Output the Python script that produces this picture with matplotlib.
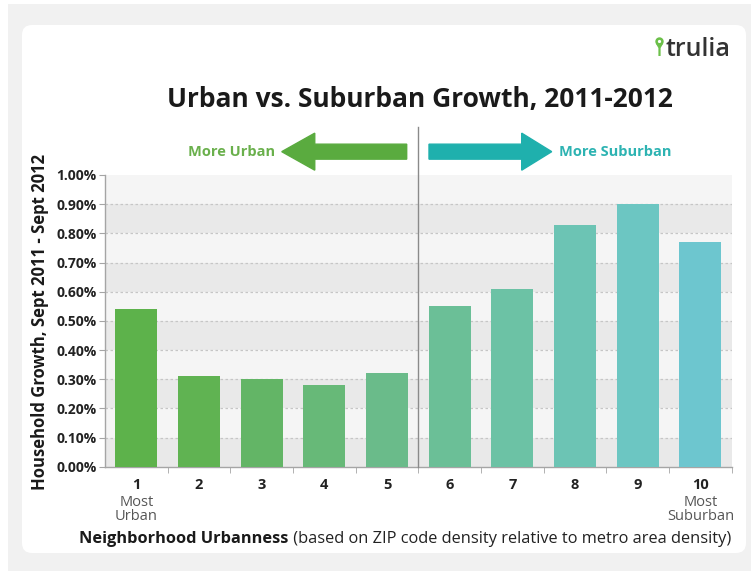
import matplotlib
matplotlib.use("Agg")
import matplotlib.pyplot as plt
from matplotlib.patches import FancyBboxPatch, Rectangle, FancyArrow, Circle, Polygon

plt.rcParams['font.family'] = ['Open Sans', 'DejaVu Sans']

# ---- data ----
categories = ["1", "2", "3", "4", "5", "6", "7", "8", "9", "10"]
sublabels = ["Most\nUrban", "", "", "", "", "", "", "", "", "Most\nSuburban"]
growth = [0.54, 0.31, 0.30, 0.28, 0.32, 0.55, 0.61, 0.83, 0.90, 0.77]
ytick_values = [0.0, 0.1, 0.2, 0.3, 0.4, 0.5, 0.6, 0.7, 0.8, 0.9, 1.0]
ytick_labels = [f"{v:.2f}%" for v in ytick_values]

bar_colors = ["#5db24b", "#60b352", "#63b566", "#67b978", "#6abb8a",
              "#6bbf97", "#6cc2a5", "#6cc4b4", "#6cc6c2", "#6dc6cf"]

W, H = 751, 571
fig = plt.figure(figsize=(W / 100, H / 100), dpi=100)
fig.patch.set_facecolor("white")

# ---- background card ----
bg = fig.add_axes([0, 0, 1, 1], zorder=0)
bg.set_xlim(0, W)
bg.set_ylim(H, 0)
bg.axis("off")
bg.add_patch(Rectangle((8, 4), W, H, facecolor="#f1f1f1", edgecolor="none"))
bg.add_patch(FancyBboxPatch((22, 25), 724, 528,
                            boxstyle="round,pad=0,rounding_size=10",
                            facecolor="white", edgecolor="none"))

# logo: pin + wordmark
pin = "#6cc04a"
bg.add_patch(Circle((659.5, 41.5), 4.2, facecolor=pin, edgecolor="none"))
bg.add_patch(Circle((659.5, 41.5), 1.6, facecolor="white", edgecolor="none"))
bg.add_patch(Polygon([(655.8, 43.5), (663.2, 43.5), (660.6, 48), (660.6, 56),
                      (658.4, 56), (658.4, 48)], closed=True,
                     facecolor=pin, edgecolor="none"))
bg.text(665, 56.5, "trulia", fontsize=18, fontweight="semibold", color="#333333",
        ha="left", va="baseline")

# ---- main axes ----
x0, x1, y0, y1 = 105, 731.7, 175, 466.7
ax = fig.add_axes([x0 / W, 1 - y1 / H, (x1 - x0) / W, (y1 - y0) / H], zorder=1)
ax.set_xlim(0.5, len(categories) + 0.5)
ax.set_ylim(0, 1.0)
ax.set_facecolor("#f5f5f5")

# alternating horizontal bands and dotted gridlines
for i in range(len(ytick_values) - 1):
    lo, hi = ytick_values[i], ytick_values[i + 1]
    if i % 2 == 0:
        ax.axhspan(lo, hi, facecolor="#e9e9e9", edgecolor="none", zorder=0)
for v in ytick_values[1:-1]:
    ax.axhline(v, color="#c6c6c6", lw=0.9, ls=(0, (2, 2)), zorder=1)

xs = list(range(1, len(categories) + 1))
ax.bar(xs, growth, width=0.67, color=bar_colors, zorder=3)

# divider between urban and suburban halves
ax.plot([5.5, 5.5], [0, 1.163], color="#8a8a8a", lw=1, clip_on=False, zorder=4)

for s in ["top", "right"]:
    ax.spines[s].set_visible(False)
for s in ["left", "bottom"]:
    ax.spines[s].set_color("#a5a5a5")
    ax.spines[s].set_linewidth(1)

ax.set_yticks(ytick_values)
ax.set_yticklabels(ytick_labels, fontsize=10, fontweight="bold", color="#222222")
ax.tick_params(axis="y", length=4, color="#a5a5a5", pad=2)

ax.set_xticks(xs)
ax.set_xticklabels([])
ax.tick_params(axis="x", which="major", length=0)
ax.set_xticks([x + 0.5 for x in xs], minor=True)
ax.tick_params(axis="x", which="minor", length=4, color="#a5a5a5")

for x, lab, sub in zip(xs, categories, sublabels):
    ax.annotate(lab, xy=(x, 0), xycoords=("data", "axes fraction"),
                xytext=(0, -18.5), textcoords="offset pixels",
                ha="center", va="center", fontsize=10.5, fontweight="bold",
                color="#222222")
    for k, line in enumerate(sub.split("\n")):
        if line:
            ax.annotate(line, xy=(x, 0), xycoords=("data", "axes fraction"),
                        xytext=(0, -36 - 14 * k), textcoords="offset pixels",
                        ha="center", va="center", fontsize=10.5, color="#555555")

# direction arrows
ay = 1.08
ax.add_patch(FancyArrow(5.314, ay, 3.32 - 5.314, 0, width=0.0514, head_width=0.127,
                        head_length=0.527, length_includes_head=True,
                        color="#5aab3f", clip_on=False, zorder=4))
ax.add_patch(FancyArrow(5.67, ay, 7.628 - 5.67, 0, width=0.0514, head_width=0.127,
                        head_length=0.479, length_includes_head=True,
                        color="#1fb0ad", clip_on=False, zorder=4))
ax.text(3.21, ay, "More Urban", ha="right", va="center", fontsize=10.5,
        fontweight="bold", color="#6ab04c", clip_on=False)
ax.text(7.744, ay, "More Suburban", ha="left", va="center", fontsize=10.5,
        fontweight="bold", color="#2db3b2", clip_on=False)

# titles
fig.text(420 / W, 1 - 100 / H, "Urban vs. Suburban Growth, 2011-2012",
         ha="center", va="center", fontsize=19, fontweight="bold", color="#1a1a1a")
fig.text(40 / W, 1 - 322 / H, "Household Growth, Sept 2011 - Sept 2012",
         ha="center", va="center", rotation=90, fontsize=12, fontweight="bold",
         color="#1a1a1a")

# x-axis title in two weights, centred as one line
fig.canvas.draw()
r = fig.canvas.get_renderer()
t1 = fig.text(0, 1 - 539 / H, "Neighborhood Urbanness", ha="left", va="center",
              fontsize=11.8, fontweight="bold", color="#1a1a1a")
t2 = fig.text(0, 1 - 539 / H, " (based on ZIP code density relative to metro area density)",
              ha="left", va="center", fontsize=11.8, color="#222222")
w1 = t1.get_window_extent(r).width
w2 = t2.get_window_extent(r).width
left = 405 - (w1 + w2) / 2
t1.set_x(left / W)
t2.set_x((left + w1) / W)

fig.savefig("out.png", dpi=100, facecolor=fig.get_facecolor())
